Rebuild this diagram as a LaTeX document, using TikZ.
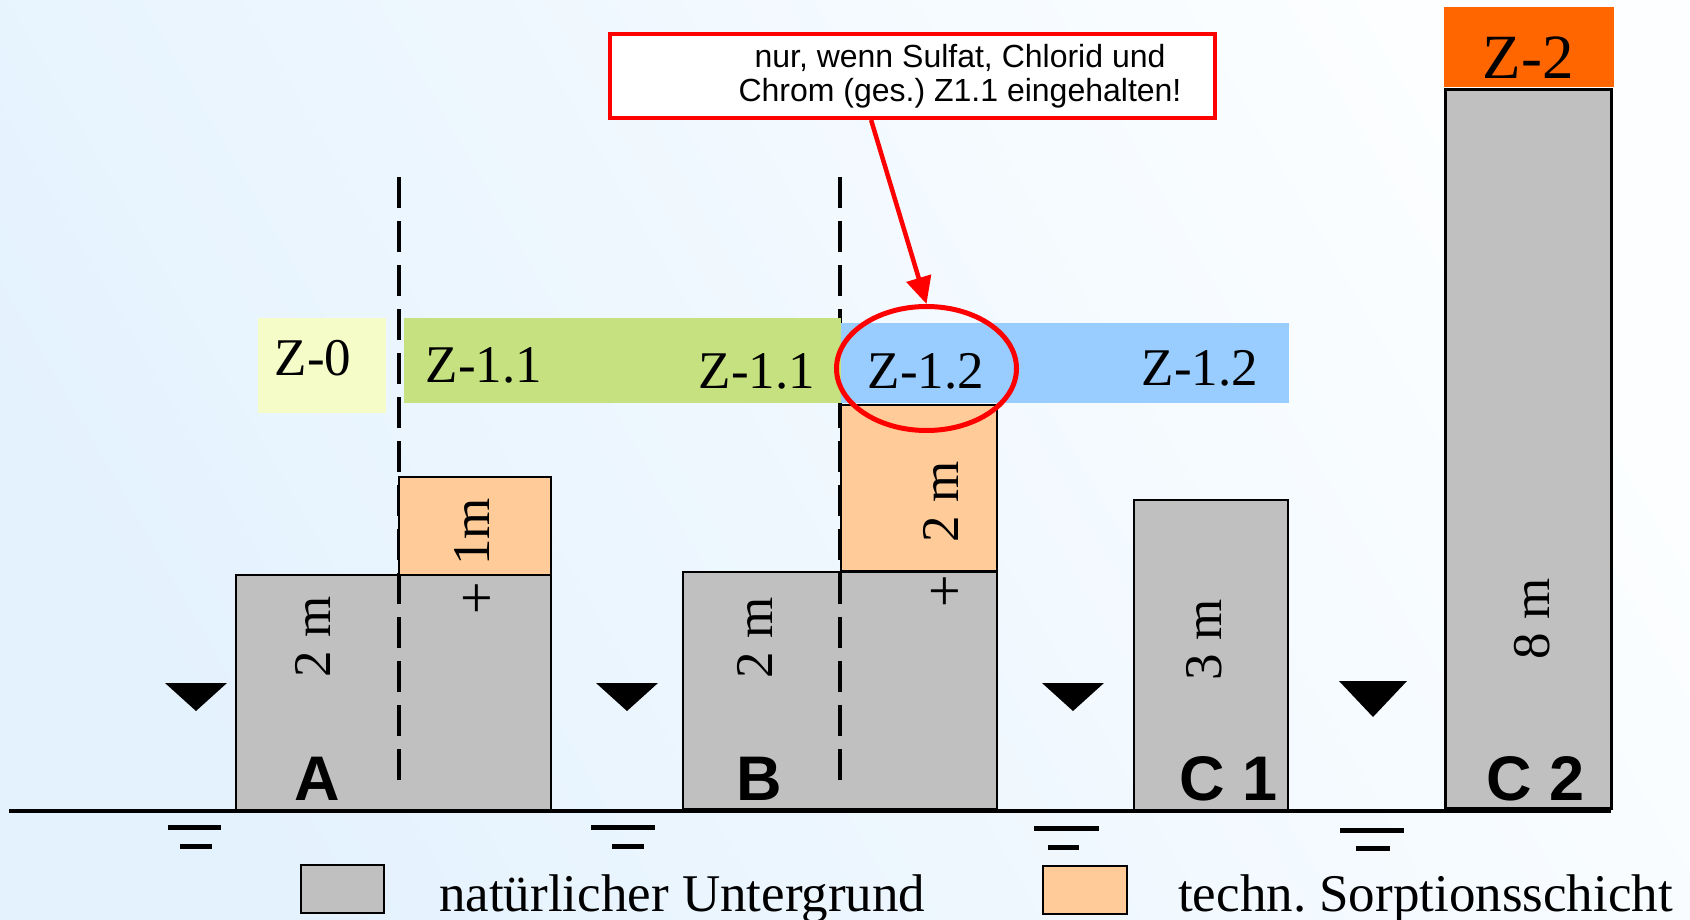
\documentclass[tikz,border=0pt]{standalone}
\usepackage{fontspec}
\setmainfont{Liberation Serif}
\newfontfamily\arialfont{Liberation Sans}
\usetikzlibrary{arrows.meta,shapes.geometric,calc}
\frenchspacing

\definecolor{bgblue}{RGB}{228,242,254}
\definecolor{bgwhite}{RGB}{252,254,255}
\definecolor{soilgray}{RGB}{192,192,192}
\definecolor{sorborange}{RGB}{255,204,153}
\definecolor{zoneyellow}{RGB}{245,252,200}
\definecolor{zonegreen}{RGB}{197,225,128}
\definecolor{zoneblue}{RGB}{153,204,255}
\definecolor{zoneorange}{RGB}{255,102,0}
\definecolor{alarm}{RGB}{255,0,0}

\tikzset{
  soil/.style={fill=soilgray, draw=black, line width=2pt},
  sorb/.style={fill=sorborange, draw=black, line width=1.5pt},
  zlabel/.style={font=\fontsize{53}{60}\selectfont, anchor=base, inner sep=0pt},
  rlabel/.style={font=\fontsize{53}{60}\selectfont, rotate=90, inner sep=0pt},
  plus/.style={font=\fontsize{58}{64}\selectfont, inner sep=0pt},
  site/.style={font=\arialfont\bfseries\fontsize{63}{70}\selectfont, anchor=base, inner sep=0pt},
  divider/.style={dash pattern=on 31pt off 13pt, line width=3.2pt},
  wline/.style={line width=5pt},
  legtext/.style={font=\fontsize{53}{60}\selectfont, anchor=base west, inner sep=0pt},
  notetext/.style={font=\arialfont\fontsize{32}{36}\selectfont, anchor=base, inner sep=0pt},
  pointer/.style={draw=alarm, line width=4.5pt, -{Triangle[length=27pt,width=25pt]}},
}

\begin{document}
\begin{tikzpicture}[x=1pt,y=-1pt]
  \useasboundingbox (0,0) rectangle (1690,920);
  % background
  \shade[bottom color=bgblue, top color=bgwhite, shading angle=-60] (0,0) rectangle (1690,920);

  % natural ground
  \draw[soil] (236,575) rectangle (551,810);
  \draw[soil] (683,572) rectangle (997,809);
  \draw[soil] (1134,500) rectangle (1288,810);
  \draw[soil, line width=3pt] (1445,90) rectangle (1611,808);

  % boundaries between the cases
  \draw[divider] (399,177) -- (399,781);
  \draw[sorb] (399,477) rectangle (551,575);
  \draw[sorb] (841,405) rectangle (997,571);
  \draw[divider] (840,177) -- (840,782);

  % allocation classes
  \fill[zoneyellow] (258,318) rectangle (386,413);
  \fill[zonegreen] (404,318) rectangle (840.5,403);
  \fill[zoneblue] (840.5,323) rectangle (1289,403);
  \fill[zoneorange] (1444,7) rectangle (1614,87);

  \node[zlabel] (z0) at (313,375) {Z-0};
  \node[zlabel] (z11a) at (484,382) {Z-1.1};
  \node[zlabel] (z11b) at (757,388) {Z-1.1};
  \node[zlabel] (z12a) at (926,388) {Z-1.2};
  \node[zlabel] (z12b) at (1200,385) {Z-1.2};
  \node[zlabel, font=\fontsize{63}{70}\selectfont] (z2) at (1528,79) {Z-2};

  % thicknesses
  \node[rlabel] (hA) at (313,637) {2 m};
  \node[rlabel] (sA) at (472,532) {1m};
  \node[plus] (pA) at (477,601) {+};
  \node[rlabel] (hB) at (755,638) {2 m};
  \node[rlabel] (sB) at (941,502) {2 m};
  \node[plus] (pB) at (945,594) {+};
  \node[rlabel] (hC1) at (1204,640) {3 m};
  \node[rlabel] (hC2) at (1532,619) {8 m};

  % case labels
  \node[site] (caseA) at (317,800) {A};
  \node[site] (caseB) at (759,800) {B};
  \node[site] (caseC1) at (1229,800) {C 1};
  \node[site] (caseC2) at (1536,800) {C 2};

  % groundwater levels
  \fill (165,683) -- (227,683) -- (196,711) -- cycle;
  \fill (596,683) -- (658,683) -- (627,711) -- cycle;
  \fill (1042,683) -- (1104,683) -- (1073,711) -- cycle;
  \fill (1339,681) -- (1407,681) -- (1373,717) -- cycle;
  \draw[wline] (168,827) -- (221,827) (180,846) -- (212,846);
  \draw[wline] (591,827) -- (655,827) (612,846) -- (644,846);
  \draw[wline] (1034,828) -- (1099,828) (1048,847) -- (1079,847);
  \draw[wline] (1340,830) -- (1404,830) (1356,848) -- (1390,848);

  % ground surface
  \draw[line width=4pt] (9,811) -- (1611,811);

  % remark
  \node[draw=alarm, fill=white, line width=4pt, minimum width=605pt, minimum height=84pt, inner sep=0pt] (callout) at (912.5,76) {};
  \node[notetext] (note1) at (960,68) {nur, wenn Sulfat, Chlorid und};
  \node[notetext] (note2) at (960,102) {Chrom (ges.) Z1.1 eingehalten!};
  \node[ellipse, draw=alarm, line width=5pt, minimum width=180pt, minimum height=124pt, inner sep=0pt] (oval) at (926.5,368.5) {};
  \draw[pointer] ($(callout.south west)!0.432!(callout.south east)$) -- (oval.north);

  % legend
  \draw[soil] (301,865) rectangle (384,913);
  \node[legtext] (leg1) at (439,911) {natürlicher Untergrund};
  \draw[sorb, line width=2pt] (1043,866) rectangle (1127,914);
  \node[legtext] (leg2) at (1178,911) {techn. Sorptionsschicht};
\end{tikzpicture}
\end{document}
